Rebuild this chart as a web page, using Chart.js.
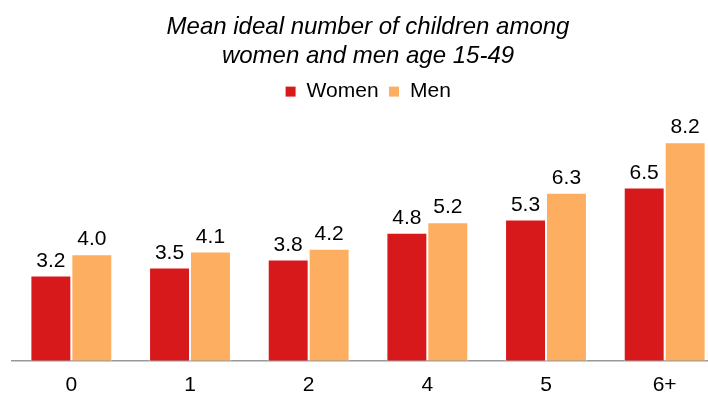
<!DOCTYPE html>
<html>
<head>
<meta charset="utf-8">
<script src="https://cdn.jsdelivr.net/npm/chart.js@4/dist/chart.umd.min.js"></script>
<style>
  html, body { margin: 0; padding: 0; background: #fff; overflow: hidden; }
  #wrap { width: 708px; height: 394px; overflow: hidden; }
  canvas { display: block; }
</style>
</head>
<body>
<div id="wrap"><canvas id="chart" width="724" height="394"></canvas></div>
<script>
  const categories = ["0", "1", "2", "4", "5", "6+"];
  const women = [3.2, 3.5, 3.8, 4.8, 5.3, 6.5];
  const men = [4.0, 4.1, 4.2, 5.2, 6.3, 8.2];
  const titleLines = ["Mean ideal number of children among", "women and men age 15-49"];

  const font = "'Liberation Sans', Arial, sans-serif";

  // value labels above each bar
  const valueLabels = {
    id: "valueLabels",
    afterDatasetsDraw(chart) {
      const ctx = chart.ctx;
      ctx.save();
      ctx.font = "21px " + font;
      ctx.fillStyle = "#000";
      ctx.textAlign = "center";
      ctx.textBaseline = "alphabetic";
      chart.data.datasets.forEach((ds, di) => {
        chart.getDatasetMeta(di).data.forEach((bar, i) => {
          ctx.fillText(ds.data[i].toFixed(1), bar.x, bar.y - 9);
        });
      });
      ctx.restore();
    }
  };

  new Chart(document.getElementById("chart"), {
    type: "bar",
    data: {
      labels: categories,
      datasets: [
        { label: "Women", data: women, backgroundColor: "#D7191C", borderColor: "#fff", borderWidth: 1 },
        { label: "Men", data: men, backgroundColor: "#FDAE61", borderColor: "#fff", borderWidth: 1 }
      ]
    },
    options: {
      responsive: false,
      animation: false,
      layout: { padding: { left: 12, right: 0, top: 0, bottom: -16 } },
      datasets: { bar: { barPercentage: 1, categoryPercentage: 0.69 } },
      plugins: {
        title: {
          display: true,
          text: titleLines,
          color: "#000",
          font: { family: font, size: 24, style: "italic", weight: "normal", lineHeight: 1.2 },
          padding: { top: 13, bottom: 0.5 }
        },
        legend: {
          display: true,
          labels: {
            color: "#000",
            font: { family: font, size: 21 },
            boxWidth: 11,
            boxHeight: 11,
            padding: 10
          }
        },
        tooltip: { enabled: false }
      },
      scales: {
        x: {
          grid: { display: false, drawTicks: false },
          border: { display: true, color: "#999", width: 1.5 },
          ticks: { color: "#000", font: { family: font, size: 21 }, padding: 12 }
        },
        y: {
          display: false,
          min: 0,
          max: 9.33
        }
      }
    },
    plugins: [valueLabels]
  });
</script>
</body>
</html>
